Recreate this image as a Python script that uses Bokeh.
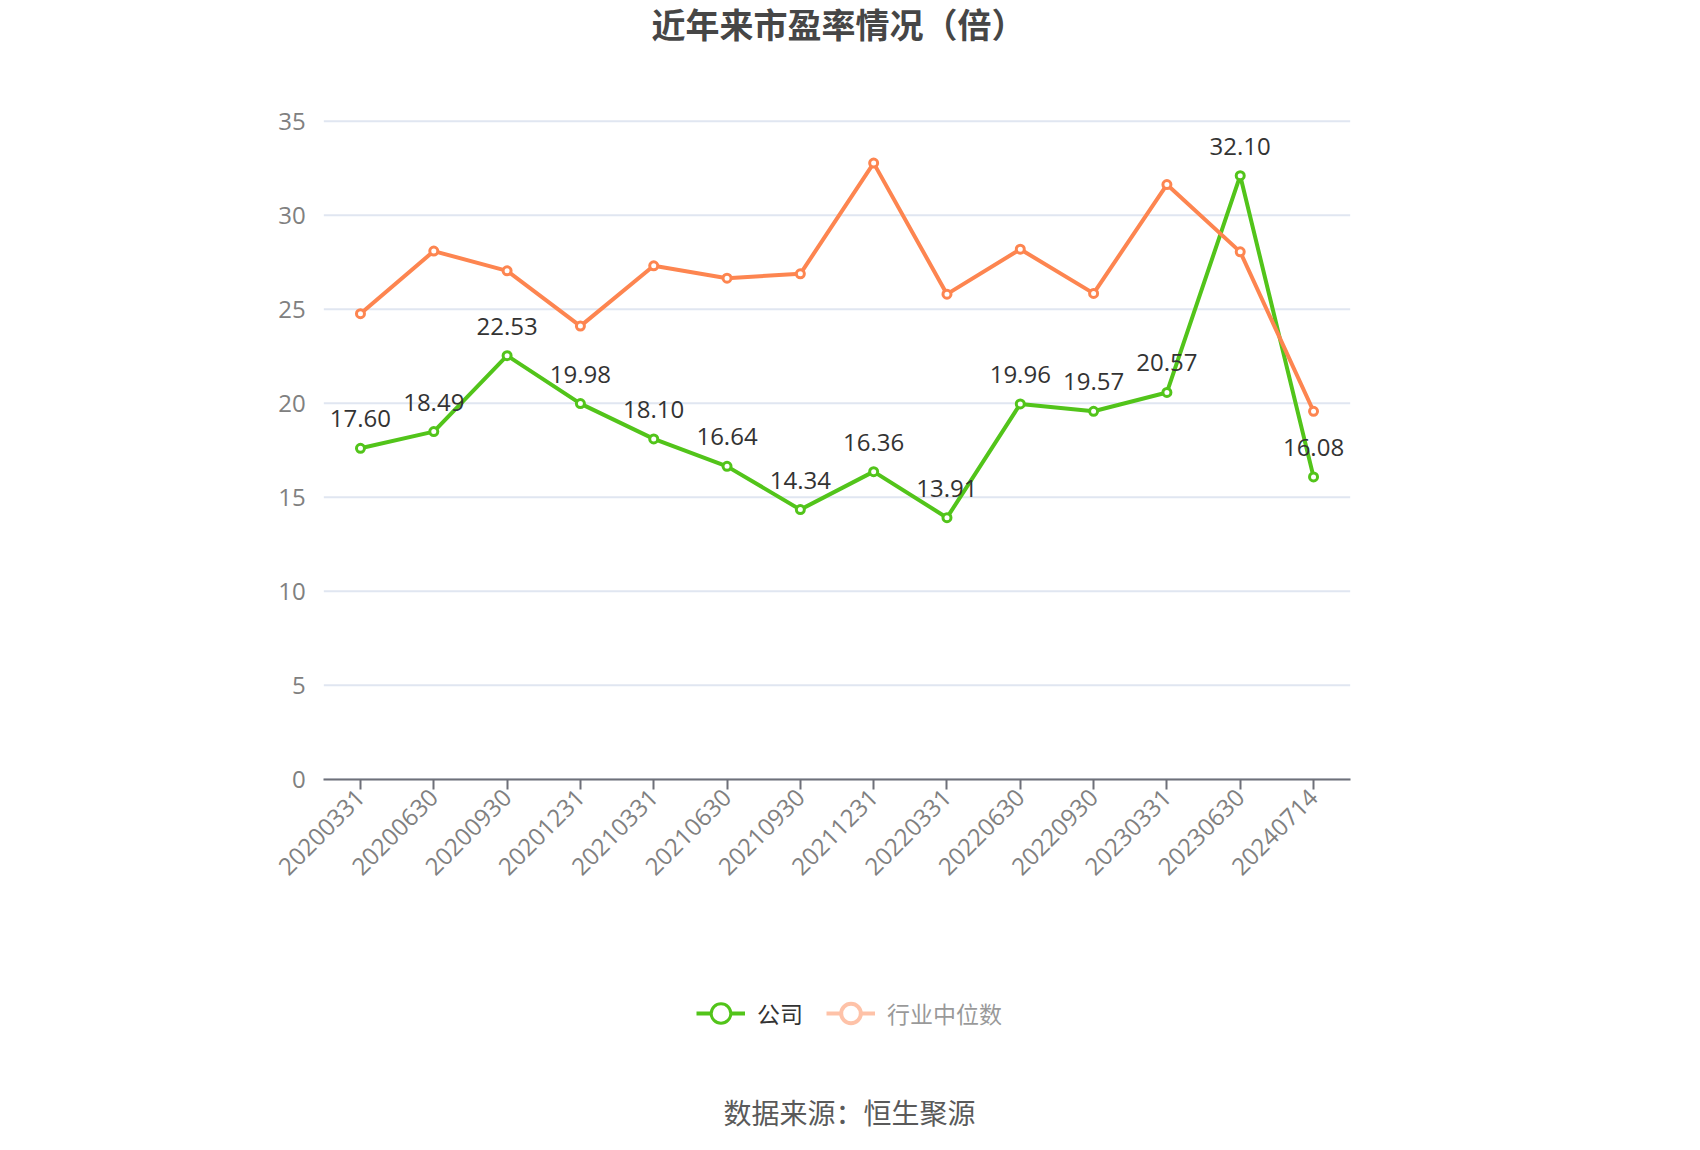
import math
from bokeh.plotting import figure
from bokeh.models import (ColumnDataSource, FactorRange, Range1d, FixedTicker,
                          LabelSet, Label, Legend, LegendItem)
from bokeh.embed import file_html
from bokeh.resources import INLINE
from bokeh.core.properties import value

# ---- data ----
dates = ["20200331", "20200630", "20200930", "20201231", "20210331", "20210630", "20210930",
         "20211231", "20220331", "20220630", "20220930", "20230331", "20230630", "20240714"]
company = [17.60, 18.49, 22.53, 19.98, 18.10, 16.64, 14.34, 16.36, 13.91, 19.96, 19.57, 20.57, 32.10, 16.08]
industry = [24.76, 28.09, 27.04, 24.10, 27.31, 26.65, 26.88, 32.77, 25.80, 28.19, 25.84, 31.63, 28.05, 19.57]
y_ticks = [0, 5, 10, 15, 20, 25, 30, 35]
series_names = ["公司", "行业中位数"]
title_text = "近年来市盈率情况（倍）"
source_text = "数据来源：恒生聚源"

GREEN = "#52c41a"
ORANGE = "#fd8550"
GRID = "#e0e6f1"
AXIS = "#6e7079"
NUM_FONT = "Open Sans"
CJK_FONT = "Noto Sans CJK SC"

# ---- layout (pixels) ----
# The frame covers the whole canvas so that titles, legend, source and the
# axis labels (axes drawn at fixed locations) are never clipped.
CANVAS_W, CANVAS_H = 1684, 1134
Y0_PX = 778.7            # canvas y of value 0
PX_PER_UNIT = 18.8       # 5 units = 94 px
PAD = 1.0                # one category of padding on each side of the plot area
FRAME_LEFT = 250
FRAME_W = 1173           # (14 + 2) categories x 73.31 px
y_top = Y0_PX / PX_PER_UNIT
y_bottom = -(CANVAS_H - Y0_PX) / PX_PER_UNIT

src = ColumnDataSource(dict(x=dates, company=company, industry=industry,
                            label=[f"{v:.2f}" for v in company]))
grid_src = ColumnDataSource(dict(y=y_ticks))

p = figure(x_range=FactorRange(factors=dates, range_padding=PAD, range_padding_units="absolute"),
           y_range=Range1d(y_bottom, y_top),
           frame_width=FRAME_W, frame_height=CANVAS_H,
           min_border_left=FRAME_LEFT, min_border_right=CANVAS_W - FRAME_LEFT - FRAME_W,
           min_border_top=0, min_border_bottom=0,
           output_backend="svg", toolbar_location=None)
p.outline_line_color = None
p.background_fill_color = "white"
p.border_fill_color = "white"
p.xgrid.visible = False
p.ygrid.visible = False

# horizontal grid lines spanning the plot area only
p.segment(x0=0, x1=len(dates), y0="y", y1="y", source=grid_src,
          line_color=GRID, line_width=2, level="underlay")

g_line = p.line("x", "company", source=src, line_color=GREEN, line_width=4)
g_pts = p.scatter("x", "company", source=src, size=8, line_color=GREEN, line_width=3,
                  fill_color="white")
p.line("x", "industry", source=src, line_color=ORANGE, line_width=4)
p.scatter("x", "industry", source=src, size=8, line_color=ORANGE, line_width=3, fill_color="white")

# hidden copies of the industry series, used only as a dimmed legend entry
o_line = p.line("x", "industry", source=src, line_color=ORANGE, line_width=4, visible=False)
o_pts = p.scatter("x", "industry", source=src, size=8, line_color=ORANGE, line_width=4,
                  fill_color="white", visible=False)

labels = LabelSet(x="x", y="company", text="label", source=src, text_align="center",
                  text_baseline="alphabetic", y_offset=21, text_font=value(NUM_FONT),
                  text_font_size="24px", text_color="#333333")
p.add_layout(labels)

# ---- axes ----
p.xaxis.fixed_location = 0
p.xaxis.bounds = (0, len(dates))
p.xaxis.major_label_orientation = math.pi / 4
p.xaxis.major_label_text_font = NUM_FONT
p.xaxis.major_label_text_font_size = "24px"
p.xaxis.major_label_text_color = "#808080"
p.xaxis.axis_line_color = AXIS
p.xaxis.axis_line_width = 2
p.xaxis.major_tick_line_color = AXIS
p.xaxis.major_tick_line_width = 2
p.xaxis.major_tick_out = 10
p.xaxis.major_tick_in = 0
p.xaxis.major_label_standoff = 4

p.yaxis.fixed_location = 0
p.yaxis.ticker = FixedTicker(ticks=y_ticks)
p.yaxis.axis_line_color = None
p.yaxis.major_tick_line_color = None
p.yaxis.minor_tick_line_color = None
p.yaxis.major_label_standoff = 12
p.yaxis.major_label_text_font = NUM_FONT
p.yaxis.major_label_text_font_size = "24px"
p.yaxis.major_label_text_color = "#808080"

# ---- legend ----
common = dict(orientation="horizontal", glyph_width=49, glyph_height=50, label_standoff=12,
              padding=0, margin=0, border_line_color=None, background_fill_alpha=0,
              label_text_font=CJK_FONT, label_text_font_size="23px",
              label_text_color="#333333")
leg1 = Legend(items=[LegendItem(label=series_names[0], renderers=[g_line, g_pts])],
              location=(696 - FRAME_LEFT, 96), click_policy="none", **common)
leg2 = Legend(items=[LegendItem(label=series_names[1], renderers=[o_line, o_pts])],
              location=(826 - FRAME_LEFT, 96), click_policy="hide",
              inactive_fill_color="white", inactive_fill_alpha=0.5, **common)
p.add_layout(leg1)
p.add_layout(leg2)

# ---- title & source ----
title = Label(x=838 - FRAME_LEFT, y=CANVAS_H - 23, x_units="screen", y_units="screen",
              text=title_text, text_align="center", text_baseline="middle", text_font=CJK_FONT,
              text_font_size="34px", text_font_style="bold", text_color="#464646")
p.add_layout(title)
source_lbl = Label(x=849 - FRAME_LEFT, y=CANVAS_H - 1111, x_units="screen", y_units="screen",
                   text=source_text, text_align="center", text_baseline="middle",
                   text_font=CJK_FONT, text_font_size="28px", text_color="#5a5a5a")
p.add_layout(source_lbl)

with open("out.html", "w", encoding="utf-8") as f:
    f.write(file_html(p, INLINE))
